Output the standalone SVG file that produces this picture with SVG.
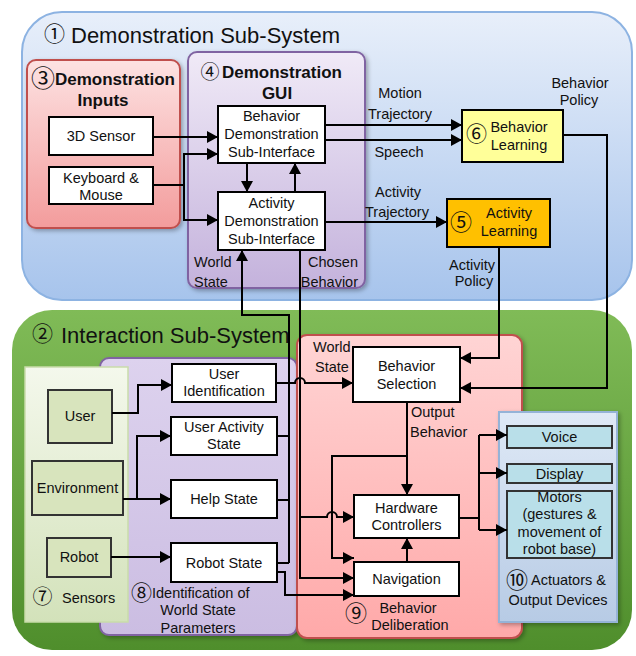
<svg xmlns="http://www.w3.org/2000/svg" width="636" height="656" viewBox="0 0 636 656">
<defs>
<linearGradient id="gBlue" x1="0" y1="0" x2="0" y2="1"><stop offset="0" stop-color="#e8effa"/><stop offset="1" stop-color="#a7c4ec"/></linearGradient>
<linearGradient id="gGreen" x1="0" y1="0" x2="0" y2="1"><stop offset="0" stop-color="#80bb57"/><stop offset="1" stop-color="#4f8e2c"/></linearGradient>
<linearGradient id="gPink" x1="0" y1="0" x2="0" y2="1"><stop offset="0" stop-color="#fde2e2"/><stop offset="1" stop-color="#f39c9c"/></linearGradient>
<linearGradient id="gPurple" x1="0" y1="0" x2="0" y2="1"><stop offset="0" stop-color="#f0eaf7"/><stop offset="1" stop-color="#c4b2dc"/></linearGradient>
<linearGradient id="gIdent" x1="0" y1="0" x2="0" y2="1"><stop offset="0" stop-color="#ddd2ee"/><stop offset="1" stop-color="#cbbde2"/></linearGradient>
<linearGradient id="gSens" x1="0" y1="0" x2="0" y2="1"><stop offset="0" stop-color="#f4f8ec"/><stop offset="1" stop-color="#d3e2ba"/></linearGradient>
<linearGradient id="gDelib" x1="0" y1="0" x2="0" y2="1"><stop offset="0" stop-color="#ffd4d4"/><stop offset="1" stop-color="#ffa9a9"/></linearGradient>
<linearGradient id="gAct" x1="0" y1="0" x2="0" y2="1"><stop offset="0" stop-color="#dfe9f6"/><stop offset="1" stop-color="#b7cbe5"/></linearGradient>
<filter id="sh" x="-10%" y="-10%" width="120%" height="120%"><feDropShadow dx="2" dy="2" stdDeviation="2" flood-color="#000" flood-opacity="0.3"/></filter>
<marker id="ah" markerUnits="userSpaceOnUse" markerWidth="12" markerHeight="12" refX="11" refY="6" orient="auto"><path d="M0,0 L11,6 L0,12 z" fill="#000"/></marker>
</defs>
<style>
text{font-family:"Liberation Sans","DejaVu Sans","Noto Sans CJK JP",sans-serif;fill:#111;}
.n{font-family:"Noto Sans CJK JP","DejaVu Sans",sans-serif;font-weight:normal;text-anchor:middle;}
.t{font-size:14.5px;text-anchor:middle;}
.l{font-size:14.5px;}
.b{font-weight:bold;font-size:17px;}
.title{font-size:22px;}
.box{fill:#fff;stroke:#000;stroke-width:2;}
.sbox{fill:#d8e4bd;stroke:#333;stroke-width:2;}
.abox{fill:#b9dfe9;stroke:#333;stroke-width:2;}
.c{fill:none;stroke:#000;stroke-width:2;}
.a{fill:none;stroke:#000;stroke-width:2;marker-end:url(#ah);}
</style>

<!-- sub-system panels -->
<g id="demo-subsystem">
<rect x="22" y="12" width="610" height="288" rx="40" fill="url(#gBlue)" stroke="#8db3e2" stroke-width="2"/>
<text class="n" x="54.5" y="41" style="font-size:21px">①</text>
<text class="title" x="71" y="43">Demonstration Sub-System</text>
</g>
<g id="interaction-subsystem">
<rect x="12" y="310" width="620" height="340" rx="40" fill="url(#gGreen)"/>
<text class="n" x="42.5" y="341" style="font-size:21px">②</text>
<text class="title" x="61" y="343">Interaction Sub-System</text>
</g>

<g id="demo-inputs">
<rect x="27" y="60" width="153" height="168" rx="9" fill="url(#gPink)" stroke="#c0504d" stroke-width="2" filter="url(#sh)"/>
<text class="n" x="43" y="87" style="font-size:24px">③</text>
<text class="b" x="55" y="85">Demonstration</text>
<text class="b" x="103" y="106" text-anchor="middle">Inputs</text>
</g>
<g id="demo-gui">
<rect x="188" y="52" width="177" height="236" rx="9" fill="url(#gPurple)" stroke="#8064a2" stroke-width="2" filter="url(#sh)"/>
<text class="n" x="210" y="79" style="font-size:19px">④</text>
<text class="b" x="222" y="78">Demonstration</text>
<text class="b" x="277" y="99" text-anchor="middle">GUI</text>
<text class="l" x="194" y="267">World</text>
<text class="l" x="194" y="287">State</text>
<text class="l" x="358" y="267" text-anchor="end">Chosen</text>
<text class="l" x="358" y="287" text-anchor="end">Behavior</text>
</g>

<g id="identification">
<rect x="100" y="358" width="197" height="277" rx="9" fill="url(#gIdent)" stroke="#8064a2" stroke-width="2" filter="url(#sh)"/>
<text class="n" x="141.5" y="600" style="font-size:21px">⑧</text>
<text class="l" x="152" y="598">Identification of</text>
<text class="t" x="198" y="615">World State</text>
<text class="t" x="198" y="633">Parameters</text>
</g>
<g id="sensors">
<rect x="25" y="367" width="103" height="255" fill="url(#gSens)" stroke="#c9dcaa" stroke-width="1.5"/>
<text class="n" x="42.5" y="604" style="font-size:20px">⑦</text>
<text class="l" x="62" y="603">Sensors</text>
</g>
<g id="deliberation">
<rect x="297" y="335" width="225" height="303" rx="10" fill="url(#gDelib)" stroke="#c0504d" stroke-width="2" filter="url(#sh)"/>
<text class="l" x="313" y="352">World</text>
<text class="l" x="315" y="372">State</text>
<text class="l" x="411" y="417">Output</text>
<text class="l" x="410" y="437">Behavior</text>
<text class="n" x="356" y="621" style="font-size:22px">⑨</text>
<text class="t" x="408" y="613">Behavior</text>
<text class="t" x="410" y="630">Deliberation</text>
</g>
<g id="actuators">
<rect x="499" y="412" width="118" height="210" fill="url(#gAct)" stroke="#95b3d7" stroke-width="2" filter="url(#sh)"/>
<text class="n" x="517" y="588" style="font-size:22px">⑩</text>
<text class="l" x="531" y="585">Actuators &amp;</text>
<text class="t" x="558" y="605">Output Devices</text>
</g>

<!-- nodes -->
<g id="sensor-3d"><rect class="box" x="49" y="117" width="104" height="38"/><text class="t" x="101" y="141">3D Sensor</text></g>
<g id="keyboard-mouse"><rect class="box" x="49" y="167" width="104" height="37"/><text class="t" x="101" y="183">Keyboard &amp;</text><text class="t" x="101" y="200">Mouse</text></g>
<g id="behavior-demo"><rect class="box" x="218" y="106" width="107" height="57"/><text class="t" x="271.5" y="121">Behavior</text><text class="t" x="271.5" y="139">Demonstration</text><text class="t" x="271.5" y="157">Sub-Interface</text></g>
<g id="activity-demo"><rect class="box" x="218" y="192" width="107" height="58"/><text class="t" x="271.5" y="208">Activity</text><text class="t" x="271.5" y="226">Demonstration</text><text class="t" x="271.5" y="244">Sub-Interface</text></g>
<g id="behavior-learning"><rect x="462" y="110" width="101" height="52" fill="#ffff99" stroke="#000" stroke-width="2"/><text class="n" x="476.5" y="141" style="font-size:21px">⑥</text><text class="t" x="519" y="132">Behavior</text><text class="t" x="519" y="150">Learning</text></g>
<g id="activity-learning"><rect x="447" y="199" width="103" height="48" fill="#ffc000" stroke="#000" stroke-width="2"/><text class="n" x="461" y="230" style="font-size:22px">⑤</text><text class="t" x="509" y="218">Activity</text><text class="t" x="509" y="236">Learning</text></g>

<g id="user"><rect class="sbox" x="48" y="390" width="64" height="53"/><text class="t" x="80" y="421">User</text></g>
<g id="environment"><rect class="sbox" x="32" y="461" width="91" height="54"/><text class="t" x="77.5" y="493">Environment</text></g>
<g id="robot"><rect class="sbox" x="47" y="538" width="64" height="39"/><text class="t" x="79" y="562">Robot</text></g>

<g id="user-identification"><rect class="box" x="172" y="364" width="104" height="38"/><text class="t" x="224" y="379">User</text><text class="t" x="224" y="396">Identification</text></g>
<g id="user-activity-state"><rect class="box" x="171" y="417" width="106" height="38"/><text class="t" x="224" y="432">User Activity</text><text class="t" x="224" y="449">State</text></g>
<g id="help-state"><rect class="box" x="171" y="480" width="106" height="38"/><text class="t" x="224" y="504">Help State</text></g>
<g id="robot-state"><rect class="box" x="171" y="543" width="106" height="39"/><text class="t" x="224" y="568">Robot State</text></g>

<g id="behavior-selection"><rect class="box" x="353" y="347" width="107" height="55"/><text class="t" x="406.5" y="371">Behavior</text><text class="t" x="406.5" y="389">Selection</text></g>
<g id="hardware-controllers"><rect class="box" x="354" y="495" width="105" height="43"/><text class="t" x="406.5" y="513">Hardware</text><text class="t" x="406.5" y="530">Controllers</text></g>
<g id="navigation"><rect class="box" x="354" y="562" width="105" height="34"/><text class="t" x="406.5" y="584">Navigation</text></g>

<g id="voice"><rect class="abox" x="507" y="426" width="105" height="22"/><text class="t" x="559.5" y="442">Voice</text></g>
<g id="display"><rect class="abox" x="507" y="464" width="105" height="19"/><text class="t" x="559.5" y="479">Display</text></g>
<g id="motors"><rect class="abox" x="507" y="491" width="105" height="67"/><text class="t" x="559.5" y="502">Motors</text><text class="t" x="559.5" y="519">(gestures &amp;</text><text class="t" x="559.5" y="537">movement of</text><text class="t" x="559.5" y="554">robot base)</text></g>

<!-- connectors -->
<g id="connectors">
<path class="a" d="M153,137 H218"/>
<path class="a" d="M153,185 H184 V154 H218"/>
<path class="a" d="M184,185 V220 H218"/>
<path class="a" d="M247,163 V192"/>
<path class="a" d="M295,192 V163"/>
<path class="a" d="M325,125 H462"/>
<path class="a" d="M325,140 H462"/>
<path class="a" d="M325,222 H447"/>
<text class="t" x="400" y="98">Motion</text>
<text class="t" x="400" y="119">Trajectory</text>
<text class="t" x="399" y="157">Speech</text>
<text class="t" x="398" y="197">Activity</text>
<text class="t" x="397" y="217">Trajectory</text>
<text class="t" x="580" y="88">Behavior</text>
<text class="t" x="579" y="105">Policy</text>
<text class="t" x="472" y="270">Activity</text>
<text class="t" x="474" y="286">Policy</text>
<path class="a" d="M563,135 H607 V388 H460"/>
<path class="a" d="M499,247 V358 H460"/>
<!-- world state bus -->
<path class="c" d="M277,436 H289 M277,500 H289 M277,563 H289"/>
<path class="a" d="M289,563 V315 H242 V250"/>
<path class="a" d="M276,383 H295 A5,5 0 0 1 305,383 H353"/>
<!-- chosen behavior -->
<path class="a" d="M300,250 V578 H354"/>
<path class="a" d="M300,517 H327 A5,5 0 0 1 337,517 H354"/>
<!-- output behavior -->
<path class="a" d="M407,402 V495"/>
<path class="a" d="M407,456 H332 V558 H354"/>
<path class="a" d="M277,572 H285 V595 H354"/>
<path class="a" d="M407,562 V538"/>
<!-- hardware to actuators -->
<path class="c" d="M459,518 H479 M479,435 V530"/>
<path class="a" d="M479,435 H507"/>
<path class="a" d="M479,473 H507"/>
<path class="a" d="M479,530 H507"/>
<!-- sensors -->
<path class="a" d="M112,413 H138 V385 H172"/>
<path class="a" d="M123,499 H171"/>
<path class="a" d="M137,499 V436 H171"/>
<path class="a" d="M111,557 H171"/>
</g>
</svg>
